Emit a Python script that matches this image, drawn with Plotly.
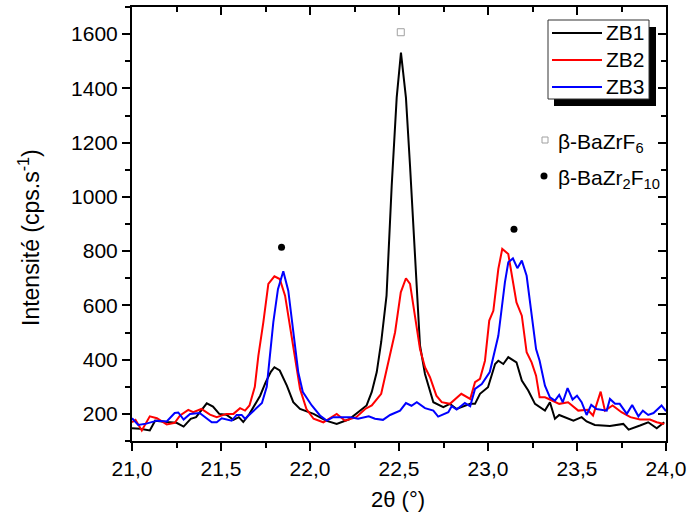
import plotly.graph_objects as go

# ---------------- data ----------------
ZB1_X = [21.00, 21.045, 21.10, 21.13, 21.195, 21.25, 21.29, 21.33, 21.36, 21.38, 21.42, 21.455, 21.49,
         21.53, 21.57, 21.60, 21.625, 21.66, 21.72, 21.75, 21.78, 21.80, 21.83, 21.87, 21.906, 21.944,
         22.02, 22.09, 22.15, 22.22, 22.27, 22.318, 22.347, 22.375, 22.40, 22.43, 22.459, 22.487,
         22.511, 22.539, 22.562, 22.59, 22.618, 22.646, 22.693, 22.749, 22.786, 22.824, 22.87, 22.90,
         22.927, 22.955, 23.00, 23.04, 23.058, 23.086, 23.114, 23.16, 23.19, 23.226, 23.264, 23.32,
         23.348, 23.376, 23.40, 23.43, 23.48, 23.526, 23.554, 23.60, 23.685, 23.76, 23.79, 23.854,
         23.90, 23.948, 23.99]
ZB1_Y = [147, 145, 139, 175, 170, 167, 153, 182, 188, 206, 239, 227, 200,
         197, 178, 188, 170, 200, 267, 315, 355, 372, 360, 304, 243, 218,
         200, 175, 163, 180, 206, 231, 281, 354, 465, 636, 1041, 1366,
         1532, 1366, 1114, 795, 452, 347, 243, 225, 237, 218, 230, 237,
         237, 274, 298, 384, 396, 384, 409, 390, 323, 286, 237, 212,
         243, 182, 196, 188, 175, 188, 172, 159, 155, 163, 142, 157,
         169, 147, 169]

ZB2_X = [21.00, 21.02, 21.055, 21.10, 21.14, 21.195, 21.24, 21.27, 21.316, 21.344, 21.39, 21.438,
         21.476, 21.53, 21.57, 21.607, 21.635, 21.66, 21.69, 21.71, 21.738, 21.766, 21.80, 21.83,
         21.86, 21.888, 21.916, 21.944, 21.98, 22.02, 22.075, 22.11, 22.15, 22.197, 22.26, 22.31,
         22.347, 22.40, 22.45, 22.478, 22.51, 22.539, 22.562, 22.59, 22.618, 22.646, 22.674, 22.71,
         22.74, 22.786, 22.824, 22.85, 22.90, 22.927, 22.955, 22.983, 23.007, 23.03, 23.058, 23.08,
         23.114, 23.13, 23.16, 23.19, 23.217, 23.245, 23.27, 23.29, 23.32, 23.348, 23.40, 23.45,
         23.507, 23.56, 23.59, 23.633, 23.657, 23.70, 23.75, 23.80, 23.854, 23.91, 23.948, 23.99]
ZB2_Y = [169, 178, 139, 191, 184, 161, 167, 194, 215, 206, 218, 197,
         188, 200, 200, 221, 212, 231, 300, 415, 538, 679, 707, 697,
         636, 525, 402, 292, 218, 182, 169, 182, 200, 175, 188, 218,
         231, 274, 415, 501, 648, 700, 679, 562, 439, 372, 335, 267,
         243, 237, 261, 274, 255, 317, 329, 396, 544, 580, 734, 808,
         789, 722, 611, 562, 427, 390, 341, 261, 261, 253, 237, 243,
         212, 215, 194, 282, 212, 231, 206, 188, 179, 179, 169, 163]

ZB3_X = [21.00, 21.035, 21.08, 21.14, 21.195, 21.24, 21.26, 21.29, 21.326, 21.38, 21.448, 21.476,
         21.504, 21.54, 21.56, 21.588, 21.616, 21.635, 21.672, 21.73, 21.757, 21.794, 21.82, 21.85,
         21.878, 21.906, 21.934, 21.96, 22.01, 22.056, 22.094, 22.13, 22.17, 22.225, 22.27, 22.33,
         22.365, 22.41, 22.45, 22.506, 22.539, 22.57, 22.60, 22.646, 22.693, 22.72, 22.777, 22.796,
         22.824, 22.87, 22.90, 22.927, 22.965, 23.01, 23.058, 23.095, 23.114, 23.14, 23.165, 23.19,
         23.217, 23.245, 23.27, 23.29, 23.32, 23.348, 23.376, 23.40, 23.42, 23.447, 23.475, 23.50,
         23.526, 23.554, 23.58, 23.61, 23.667, 23.685, 23.714, 23.74, 23.78, 23.81, 23.845, 23.87,
         23.90, 23.93, 23.975, 24.00]
ZB3_Y = [184, 159, 164, 175, 172, 203, 205, 179, 200, 203, 169, 169,
         184, 179, 175, 196, 196, 182, 206, 240, 300, 538, 660, 726,
         654, 501, 354, 280, 231, 194, 175, 188, 188, 188, 182, 191,
         182, 178, 196, 212, 240, 230, 243, 221, 212, 190, 206, 228,
         216, 240, 228, 292, 310, 354, 488, 685, 759, 773, 737, 765,
         709, 562, 439, 396, 304, 261, 249, 270, 243, 295, 253, 267,
         243, 196, 233, 218, 212, 255, 237, 237, 200, 233, 191, 212,
         196, 203, 231, 210]

SERIES_NAMES = ["ZB1", "ZB2", "ZB3"]

# phase markers
BAZRF6_X = [22.51]
BAZRF6_Y = [1607]
BAZR2F10_X = [21.84, 23.146]
BAZR2F10_Y = [814, 881]
PHASE_LABELS = ["β-BaZrF<sub>6</sub>", "β-BaZr<sub>2</sub>F<sub>10</sub>"]

X_TICKS = [21.0, 21.5, 22.0, 22.5, 23.0, 23.5, 24.0]
X_TICK_LABELS = ["21,0", "21,5", "22,0", "22,5", "23,0", "23,5", "24,0"]
Y_TICKS = [200, 400, 600, 800, 1000, 1200, 1400, 1600]
Y_TICK_LABELS = ["200", "400", "600", "800", "1000", "1200", "1400", "1600"]

X_TITLE = "2θ (°)"
Y_TITLE = "Intensité (cps.s<sup>-1</sup>)"

# ---------------- layout geometry ----------------
W, H = 689, 520
L, R, T, B = 132, 23, 7, 79
PW, PH = W - L - R, H - T - B
FONT = "Liberation Sans, Arial, sans-serif"


def px(xpix):
    return (xpix - L) / PW


def py(ypix):
    return (H - B - ypix) / PH


COLORS = ["#000000", "#ff0000", "#0000ff"]

fig = go.Figure()
for xs, ys, name, c in zip([ZB1_X, ZB2_X, ZB3_X], [ZB1_Y, ZB2_Y, ZB3_Y], SERIES_NAMES, COLORS):
    fig.add_trace(go.Scatter(x=xs, y=ys, mode="lines", name=name,
                             line=dict(color=c, width=2), showlegend=False))

fig.add_trace(go.Scatter(x=BAZRF6_X, y=BAZRF6_Y, mode="markers", showlegend=False,
                         marker=dict(symbol="square-open", size=7, color="#a0a0a0",
                                     line=dict(width=1, color="#a0a0a0"))))
fig.add_trace(go.Scatter(x=BAZR2F10_X, y=BAZR2F10_Y, mode="markers", showlegend=False,
                         marker=dict(symbol="circle", size=7, color="#000000")))

axis_common = dict(showgrid=False, zeroline=False, showline=True, linecolor="black",
                   linewidth=2, tickcolor="black", tickwidth=2, ticklen=8, automargin=False,
                   tickfont=dict(family=FONT, size=21, color="black"))

fig.update_layout(
    width=W, height=H, autosize=False,
    margin=dict(l=L, r=R, t=T, b=B, autoexpand=False),
    paper_bgcolor="white", plot_bgcolor="white",
    xaxis=dict(range=[21, 24], tickmode="array", tickvals=X_TICKS, ticktext=X_TICK_LABELS,
               ticks="outside",
               minor=dict(tickmode="linear", tick0=21, dtick=0.25, ticks="outside",
                          ticklen=5, tickwidth=2, tickcolor="black"),
               **axis_common),
    yaxis=dict(range=[100, 1700], tickmode="array", tickvals=Y_TICKS, ticktext=Y_TICK_LABELS,
               ticks="outside",
               minor=dict(tickmode="linear", tick0=100, dtick=100, ticks="outside",
                          ticklen=5, tickwidth=2, tickcolor="black"),
               **axis_common),
    xaxis2=dict(range=[21, 24], overlaying="x", side="top", anchor="y",
                tickmode="array", tickvals=X_TICKS, showticklabels=False, ticks="inside",
                minor=dict(tickmode="linear", tick0=21, dtick=0.25, ticks="inside",
                           ticklen=5, tickwidth=2, tickcolor="black"),
                **axis_common),
    yaxis2=dict(range=[100, 1700], overlaying="y", side="right", anchor="x",
                tickmode="array", tickvals=Y_TICKS, showticklabels=False, ticks="inside",
                minor=dict(tickmode="linear", tick0=100, dtick=100, ticks="inside",
                           ticklen=5, tickwidth=2, tickcolor="black"),
                **axis_common),
)
# invisible trace to activate the mirror axes
fig.add_trace(go.Scatter(x=[21], y=[100], xaxis="x2", yaxis="y2", mode="markers",
                         marker=dict(opacity=0), showlegend=False, hoverinfo="skip"))

shapes = []
# legend shadow and box
shapes.append(dict(type="rect", xref="paper", yref="paper", x0=px(554), x1=px(656),
                   y0=py(106), y1=py(27), fillcolor="black", line=dict(width=0), layer="above"))
shapes.append(dict(type="rect", xref="paper", yref="paper", x0=px(548), x1=px(649),
                   y0=py(99), y1=py(20), fillcolor="white", line=dict(color="#333333", width=1),
                   layer="above"))
annotations = []
for i, (name, c) in enumerate(zip(SERIES_NAMES, COLORS)):
    yy = [33, 60, 87][i]
    shapes.append(dict(type="line", xref="paper", yref="paper", x0=px(552), x1=px(602),
                       y0=py(yy), y1=py(yy), line=dict(color=c, width=2), layer="above"))
    annotations.append(dict(text=name, xref="paper", yref="paper", x=px(604), y=py(yy),
                            xanchor="left", yanchor="middle", showarrow=False,
                            font=dict(family=FONT, size=21, color="black")))

# phase marker legend
shapes.append(dict(type="rect", xref="paper", yref="paper", xsizemode="pixel", ysizemode="pixel",
                   xanchor=px(545), yanchor=py(140), x0=-3, x1=3, y0=-3, y1=3,
                   line=dict(color="#a0a0a0", width=1), fillcolor="white", layer="above"))
shapes.append(dict(type="circle", xref="paper", yref="paper", xsizemode="pixel", ysizemode="pixel",
                   xanchor=px(544), yanchor=py(176), x0=-3.5, x1=3.5, y0=-3.5, y1=3.5,
                   line=dict(color="black", width=0), fillcolor="black", layer="above"))
annotations.append(dict(text=PHASE_LABELS[0], xref="paper", yref="paper", x=px(556), y=py(143),
                        xanchor="left", yanchor="middle", showarrow=False,
                        font=dict(family=FONT, size=21, color="black")))
annotations.append(dict(text=PHASE_LABELS[1], xref="paper", yref="paper", x=px(556), y=py(179),
                        xanchor="left", yanchor="middle", showarrow=False,
                        font=dict(family=FONT, size=21, color="black")))

# axis titles
annotations.append(dict(text=X_TITLE, xref="paper", yref="paper", x=px(398), y=py(500),
                        xanchor="center", yanchor="middle", showarrow=False,
                        font=dict(family=FONT, size=22, color="black")))
annotations.append(dict(text=Y_TITLE, xref="paper", yref="paper", x=px(29), y=py(238),
                        xanchor="center", yanchor="middle", showarrow=False, textangle=-90,
                        font=dict(family=FONT, size=23, color="black")))

fig.update_layout(shapes=shapes, annotations=annotations)
fig.write_html("out.html", config={"displayModeBar": False},
               post_script="document.body.style.margin='0';document.body.style.padding='0';")
